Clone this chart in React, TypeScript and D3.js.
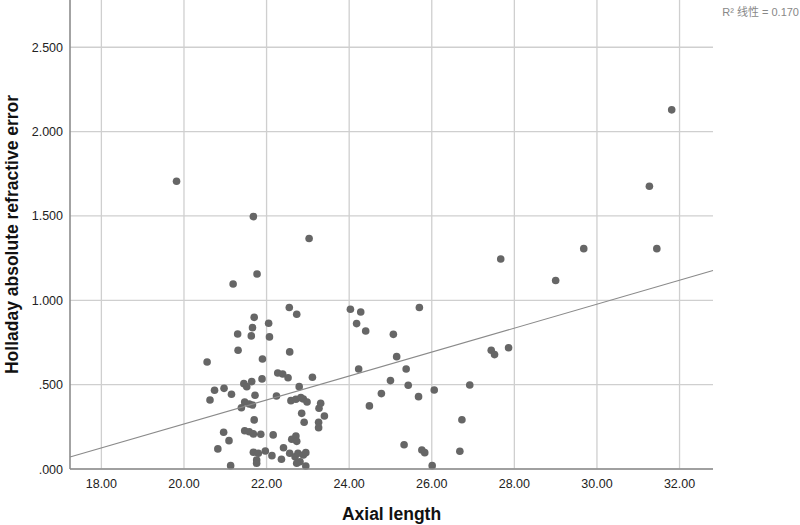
import React from 'react';
import * as d3 from 'd3';

// values
const axialLength = [
  19.82, 21.68, 23.03, 21.77, 21.19,
  31.81, 31.27, 29.68, 31.45, 27.67, 29.0, 25.7, 27.44, 27.52, 27.86, 26.92, 26.06, 25.68, 26.73, 25.76, 25.83, 26.68, 26.01,
  24.03, 24.28, 24.18, 24.4, 25.07, 25.15, 24.23, 25.38, 25.0, 25.43, 24.78, 24.49, 25.33,
  22.55, 22.73, 21.7, 22.05, 21.66, 21.3, 21.63, 22.07, 21.31, 22.56, 21.9, 20.56, 22.27, 22.39, 22.52, 21.89, 23.11,
  21.45, 21.64, 21.52, 20.74, 20.97, 21.15, 20.63, 21.72, 22.24, 22.79, 22.59, 22.71, 22.83, 22.89, 22.98,
  21.47, 21.58, 21.66, 21.39, 23.31, 23.27, 23.4, 22.85, 22.91, 21.7, 23.26, 23.26,
  21.47, 21.58, 21.68, 21.86, 22.16, 20.96, 21.09, 20.82, 22.61, 22.71, 22.73,
  21.68, 21.8, 21.76, 21.76, 21.97, 22.13, 22.36, 22.41, 22.56, 22.69, 22.76, 22.81, 22.73, 22.89, 22.95, 22.95, 21.13,
];
const refractiveError = [
  1.706, 1.496, 1.366, 1.156, 1.097,
  2.129, 1.676, 1.306, 1.306, 1.245, 1.117, 0.957, 0.704, 0.678, 0.719, 0.498, 0.468, 0.429, 0.292, 0.113, 0.097, 0.105, 0.02,
  0.947, 0.931, 0.862, 0.818, 0.798, 0.666, 0.593, 0.593, 0.524, 0.496, 0.447, 0.374, 0.144,
  0.957, 0.917, 0.899, 0.864, 0.838, 0.8, 0.789, 0.783, 0.704, 0.694, 0.652, 0.634, 0.569, 0.563, 0.541, 0.534, 0.544,
  0.506, 0.518, 0.488, 0.467, 0.478, 0.443, 0.409, 0.437, 0.433, 0.488, 0.405, 0.413, 0.423, 0.415, 0.397,
  0.397, 0.385, 0.379, 0.363, 0.39, 0.36, 0.314, 0.33, 0.277, 0.291, 0.277, 0.245,
  0.227, 0.221, 0.208, 0.206, 0.202, 0.218, 0.168, 0.119, 0.176, 0.196, 0.164,
  0.099, 0.093, 0.053, 0.034, 0.107, 0.079, 0.058, 0.126, 0.093, 0.073, 0.093, 0.043, 0.034, 0.083, 0.097, 0.018, 0.02,
];

const xTicks = [18, 20, 22, 24, 26, 28, 30, 32];
const yTicks = [0, 0.5, 1, 1.5, 2, 2.5];

// linear fit line as drawn in the picture
const fitIntercept = -1.153;
const fitSlope = 0.071;
const fitLabel = 'R² 线性 = 0.170';

const W = 800;
const H = 525;
const margin = { top: 0, right: 87, bottom: 56, left: 70 };
const font = '"Liberation Sans", Arial, sans-serif';

export default function App() {
  const x = d3.scaleLinear().domain([17.24, 32.81]).range([margin.left, W - margin.right]);
  const y = d3.scaleLinear().domain([0, 2.78]).range([H - margin.bottom, margin.top]);
  const fmtX = d3.format('.2f');
  const fmtY = (v: number) => d3.format('.3f')(v).replace(/^0\./, '.');
  const [x0, x1] = x.domain();
  const line = d3.line<number>().x(d => x(d)).y(d => y(fitIntercept + fitSlope * d));
  const pts = axialLength.map((v, i) => [v, refractiveError[i]]);

  return (
    <div style={{ position: 'fixed', left: 0, top: 0 }}>
      <svg width={W} height={H} style={{ display: 'block', background: '#fff' }}>
        <g stroke="#cfcfcf" strokeWidth={1.3}>
          {yTicks.map(t => (
            <line key={'gy' + t} x1={x(x0)} x2={x(x1)} y1={y(t)} y2={y(t)} />
          ))}
          {xTicks.map(t => (
            <line key={'gx' + t} x1={x(t)} x2={x(t)} y1={y(0)} y2={margin.top} />
          ))}
        </g>
        <g fill="#666">
          {pts.map((p, i) => (
            <circle key={i} cx={x(p[0])} cy={y(p[1])} r={3.8} />
          ))}
        </g>
        <path d={line([x0, x1]) || ''} fill="none" stroke="#8a8a8a" strokeWidth={1.1} />
        <g stroke="#8c8c8c" strokeWidth={1.6}>
          <line x1={x(x0)} x2={x(x1)} y1={y(0)} y2={y(0)} />
          <line x1={x(x0)} x2={x(x0)} y1={y(0)} y2={margin.top} />
        </g>
        <g fontFamily={font} fontSize={12.5} fill="#222">
          {xTicks.map(t => (
            <text key={'tx' + t} x={x(t)} y={y(0) + 19} textAnchor="middle">{fmtX(t)}</text>
          ))}
          {yTicks.map(t => (
            <text key={'ty' + t} x={margin.left - 7} y={y(t) + 4.5} textAnchor="end">{fmtY(t)}</text>
          ))}
        </g>
        <text x={(x(x0) + x(x1)) / 2} y={H - 5} textAnchor="middle" fontFamily={font} fontWeight="bold" fontSize={17.5} fill="#111">
          Axial length
        </text>
        <text
          transform={`translate(18,${(y(0) + margin.top) / 2}) rotate(-90)`}
          textAnchor="middle"
          fontFamily={font}
          fontWeight="bold"
          fontSize={17.5}
          fill="#111"
        >
          Holladay absolute refractive error
        </text>
        <text x={W - 1} y={16} textAnchor="end" fontFamily={'"Liberation Sans", "Noto Sans CJK SC", sans-serif'} fontSize={11} fill="#888">
          {fitLabel}
        </text>
      </svg>
    </div>
  );
}
